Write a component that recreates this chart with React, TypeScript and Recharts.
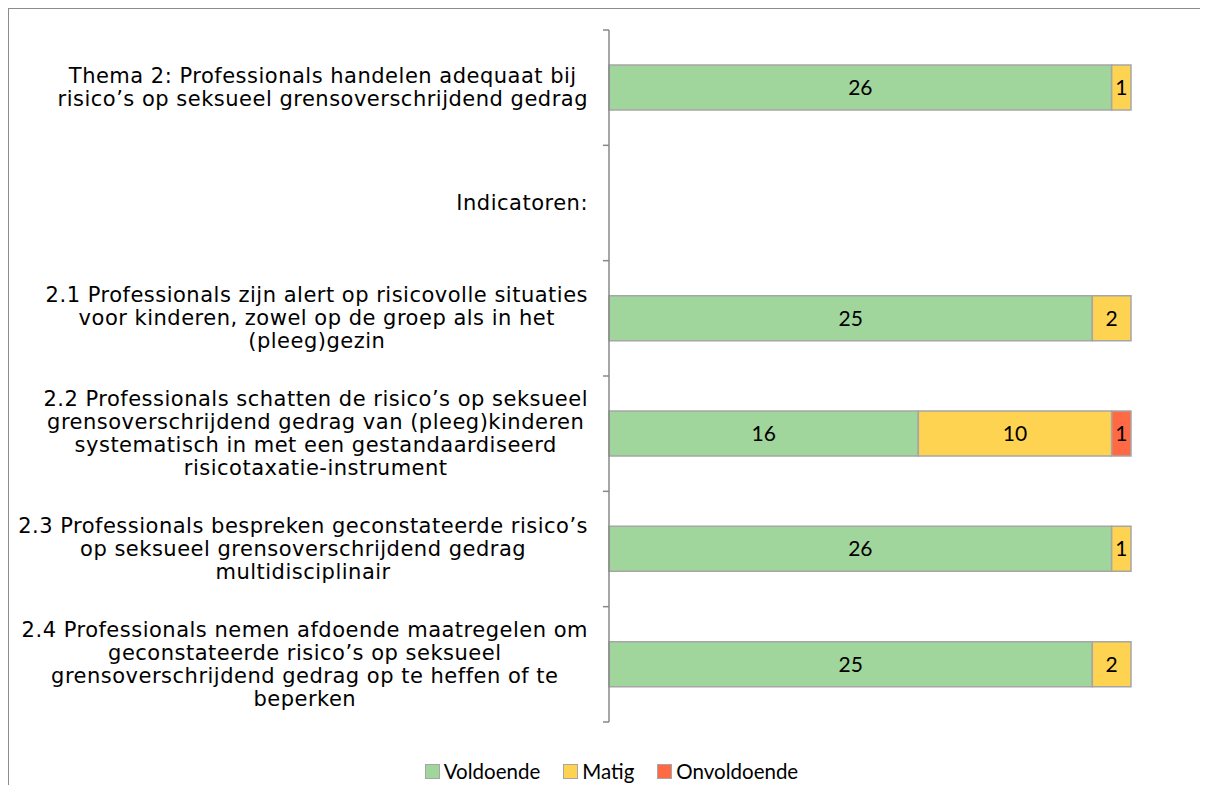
import { BarChart, Bar, XAxis, YAxis, LabelList } from "recharts";

const categories = [
  ["Thema 2: Professionals handelen adequaat bij", "risico’s op seksueel grensoverschrijdend gedrag"],
  ["Indicatoren:"],
  ["2.1 Professionals zijn alert op risicovolle situaties", "voor kinderen, zowel op de groep als in het", "(pleeg)gezin"],
  [
    "2.2 Professionals schatten de risico’s op seksueel",
    "grensoverschrijdend gedrag van (pleeg)kinderen",
    "systematisch in met een gestandaardiseerd",
    "risicotaxatie-instrument",
  ],
  ["2.3 Professionals bespreken geconstateerde risico’s", "op seksueel grensoverschrijdend gedrag", "multidisciplinair"],
  [
    "2.4 Professionals nemen afdoende maatregelen om",
    "geconstateerde risico’s op seksueel",
    "grensoverschrijdend gedrag op te heffen of te",
    "beperken",
  ],
];

const voldoende = [26, null, 25, 16, 26, 25];
const matig = [1, null, 2, 10, 1, 2];
const onvoldoende = [0, null, 0, 1, 0, 0];

const series = [
  { key: "voldoende", name: "Voldoende", color: "#A0D59B" },
  { key: "matig", name: "Matig", color: "#FFD352" },
  { key: "onvoldoende", name: "Onvoldoende", color: "#FF6A45" },
];

const data = categories.map((_, i) => ({
  key: String(i),
  voldoende: voldoende[i] || null,
  matig: matig[i] || null,
  onvoldoende: onvoldoende[i] || null,
}));

const W = 1199;
const H = 776;
const MARGIN = { top: 21, right: 77, bottom: 63, left: 0 };
const AXIS_W = 600;
const FONT = '"DejaVu Sans", Verdana, sans-serif';
const FS = 21;
const LS = 0.5;
const LINE_H = 23;
const BAND = (H - MARGIN.top - MARGIN.bottom) / categories.length;

let ctx: CanvasRenderingContext2D | null = null;
const measure = (s: string) => {
  if (!ctx) ctx = document.createElement("canvas").getContext("2d");
  if (!ctx) return s.length * 10;
  ctx.font = `${FS}px ${FONT}`;
  return ctx.measureText(s).width + LS * s.length;
};

const CategoryTick = (props: any) => {
  const { x, y, payload, index } = props;
  const lines = categories[Number(payload.value)] || [];
  const maxW = Math.max(...lines.map(measure));
  const right = x - 21;
  const cx = right - maxW / 2;
  const n = lines.length;
  return (
    <g>
      <line x1={x - 6} x2={x} y1={y - BAND / 2} y2={y - BAND / 2} stroke="#888" strokeWidth={1.5} />
      {index === categories.length - 1 && (
        <line x1={x - 6} x2={x} y1={y + BAND / 2} y2={y + BAND / 2} stroke="#888" strokeWidth={1.5} />
      )}
      {lines.map((l, i) => (
        <text
          key={i}
          x={cx}
          y={y + (i - (n - 1) / 2) * LINE_H}
          textAnchor="middle"
          dominantBaseline="central"
          fontFamily={FONT}
          fontSize={FS}
          letterSpacing={LS}
          fill="#000"
        >
          {l}
        </text>
      ))}
    </g>
  );
};

export default function App() {
  return (
    <div
      style={{
        position: "relative",
        width: 1200,
        height: H,
        overflow: "hidden",
        borderTop: "1px solid #8c8c8c",
        borderLeft: "1px solid #8c8c8c",
        background: "#fff",
      }}
    >
      <BarChart width={W} height={H} data={data} layout="vertical" margin={MARGIN} barSize={45}>
        <XAxis type="number" domain={[0, 27]} hide />
        <YAxis
          type="category"
          dataKey="key"
          width={AXIS_W}
          axisLine={{ stroke: "#888", strokeWidth: 1.5 }}
          tickLine={false}
          tickSize={0}
          tickMargin={0}
          tick={<CategoryTick />}
          interval={0}
        />
        {series.map((s) => (
          <Bar
            key={s.key}
            dataKey={s.key}
            name={s.name}
            stackId="a"
            fill={s.color}
            stroke="#A6A6A6"
            strokeWidth={1.5}
            isAnimationActive={false}
          >
            <LabelList dataKey={s.key} position="center" fill="#000" fontSize={21} fontFamily="Lato, sans-serif" />
          </Bar>
        ))}
      </BarChart>
      <div
        style={{
          position: "absolute",
          left: 3,
          top: 750,
          width: W,
          display: "flex",
          justifyContent: "center",
          alignItems: "center",
          gap: 23,
          fontFamily: "Lato, sans-serif",
          fontSize: 20.5,
          color: "#000",
        }}
      >
        {series.map((s) => (
          <div key={s.key} style={{ display: "flex", alignItems: "center" }}>
            <span
              style={{
                display: "inline-block",
                width: 13,
                height: 13,
                background: s.color,
                border: "1.5px solid #A6A6A6",
                marginRight: 4,
              }}
            />
            <span>{s.name}</span>
          </div>
        ))}
      </div>
    </div>
  );
}
